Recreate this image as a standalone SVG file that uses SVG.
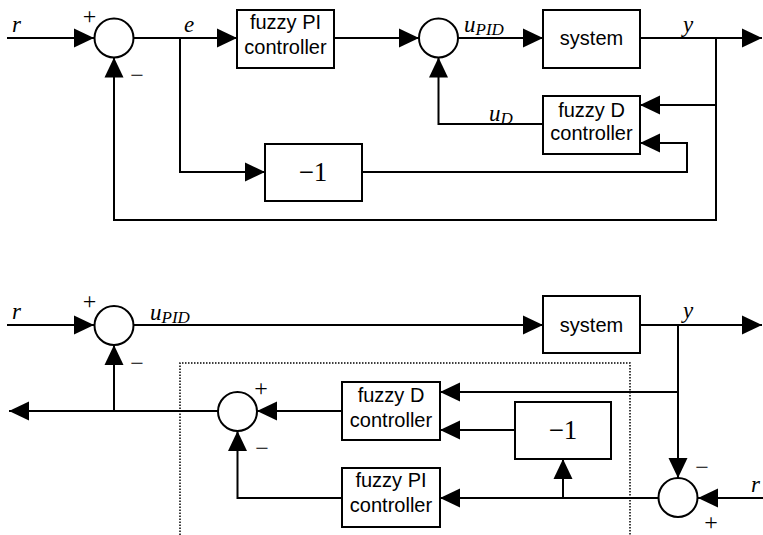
<svg xmlns="http://www.w3.org/2000/svg" width="763" height="535" viewBox="0 0 763 535">
<defs>
<marker id="ah" markerUnits="userSpaceOnUse" markerWidth="20" markerHeight="20" refX="20" refY="9.5" orient="auto" viewBox="0 0 20 19">
<path d="M0,0 L20,9.5 L0,19 z" fill="#000"/>
</marker>
</defs>
<style>
.box{fill:#fff;stroke:#000;stroke-width:2}
.sum{fill:#fff;stroke:#000;stroke-width:2}
.ln{fill:none;stroke:#000;stroke-width:2}
.arr{fill:none;stroke:#000;stroke-width:2;marker-end:url(#ah)}
.dot{fill:none;stroke:#000;stroke-width:1.5;stroke-dasharray:1.5,1.5}
.bt{font-family:"Liberation Sans",Arial,sans-serif;font-size:20px;text-anchor:middle}
.m{font-family:"Liberation Serif","Times New Roman",serif;font-style:italic;font-size:23px}
.sub{font-size:17px}
.sg{font-family:"Liberation Serif","Times New Roman",serif;font-size:24px;text-anchor:middle}
.k{font-family:"Liberation Serif","Times New Roman",serif;font-size:27px;text-anchor:middle}
</style>
<rect width="763" height="535" fill="#fff"/>

<g id="connectors">
<!-- top -->
<path class="arr" d="M7,38 H94"/>
<path class="arr" d="M133,38 H237"/>
<path class="arr" d="M180,38 V172 H265"/>
<path class="arr" d="M334,38 H419"/>
<path class="arr" d="M458,38 H543"/>
<path class="arr" d="M640,38 H762"/>
<path class="arr" d="M716,38 V105 H640"/>
<path class="arr" d="M716,105 V220 H114 V57.5"/>
<path class="arr" d="M362,172 H687 V143 H640"/>
<path class="arr" d="M543,124 H438.5 V57.5"/>
<!-- bottom -->
<path class="arr" d="M7,325 H94"/>
<path class="arr" d="M133,325 H543"/>
<path class="arr" d="M640,325 H762"/>
<path class="arr" d="M678,325 V478"/>
<path class="arr" d="M678,392 H440"/>
<path class="arr" d="M342,411 H257"/>
<path class="arr" d="M218,411 H9"/>
<path class="arr" d="M114,411 V345"/>
<path class="arr" d="M515,430 H440"/>
<path class="arr" d="M658,498 H440"/>
<path class="arr" d="M563,498 V459"/>
<path class="arr" d="M763,498 H698"/>
<path class="arr" d="M342,498 H237.5 V431"/>
<path class="dot" d="M180,535 V363 H630 V535"/>
</g>

<!-- top diagram nodes -->
<g id="sum1"><circle class="sum" cx="114" cy="38" r="19.5"/><text class="sg" x="89.5" y="24">+</text><text class="sg" x="137" y="83">−</text></g>
<g id="fuzzyPI1"><rect class="box" x="237" y="10" width="97" height="58"/><text class="bt" x="285.5" y="29">fuzzy PI</text><text class="bt" x="285.5" y="54">controller</text></g>
<g id="sum2"><circle class="sum" cx="438.5" cy="38" r="19.5"/></g>
<g id="system1"><rect class="box" x="543" y="10" width="97" height="58"/><text class="bt" x="591.5" y="45">system</text></g>
<g id="fuzzyD1"><rect class="box" x="543" y="96" width="97" height="58"/><text class="bt" x="591.5" y="117">fuzzy D</text><text class="bt" x="591.5" y="140">controller</text></g>
<g id="neg1"><rect class="box" x="265" y="144" width="97" height="57"/><text class="k" x="313" y="181">−1</text></g>
<g id="labels1">
<text class="m" x="12" y="32">r</text>
<text class="m" x="184" y="32">e</text>
<text class="m" x="464" y="32">u<tspan class="sub" dy="3">PID</tspan></text>
<text class="m" x="683" y="32">y</text>
<text class="m" x="489" y="121">u<tspan class="sub" dy="3">D</tspan></text>
</g>

<!-- bottom diagram nodes -->
<g id="sum3"><circle class="sum" cx="114" cy="325.5" r="19.5"/><text class="sg" x="89.5" y="309">+</text><text class="sg" x="137" y="371">−</text></g>
<g id="system2"><rect class="box" x="543" y="296" width="97" height="57"/><text class="bt" x="591.5" y="332">system</text></g>
<g id="sum4"><circle class="sum" cx="237.5" cy="411.5" r="19.5"/><text class="sg" x="261" y="396">+</text><text class="sg" x="262" y="456">−</text></g>
<g id="fuzzyD2"><rect class="box" x="342" y="382" width="98" height="58"/><text class="bt" x="391" y="402">fuzzy D</text><text class="bt" x="391" y="427">controller</text></g>
<g id="neg2"><rect class="box" x="515" y="402" width="96" height="57"/><text class="k" x="563" y="439">−1</text></g>
<g id="fuzzyPI2"><rect class="box" x="342" y="468" width="98" height="59"/><text class="bt" x="391" y="487">fuzzy PI</text><text class="bt" x="391" y="512">controller</text></g>
<g id="sum5"><circle class="sum" cx="678" cy="497.5" r="19.5"/><text class="sg" x="702" y="475">−</text><text class="sg" x="711" y="530">+</text></g>
<g id="labels2">
<text class="m" x="12" y="319">r</text>
<text class="m" x="150" y="320">u<tspan class="sub" dy="3">PID</tspan></text>
<text class="m" x="683" y="318">y</text>
<text class="m" x="751" y="492">r</text>
</g>
</svg>
